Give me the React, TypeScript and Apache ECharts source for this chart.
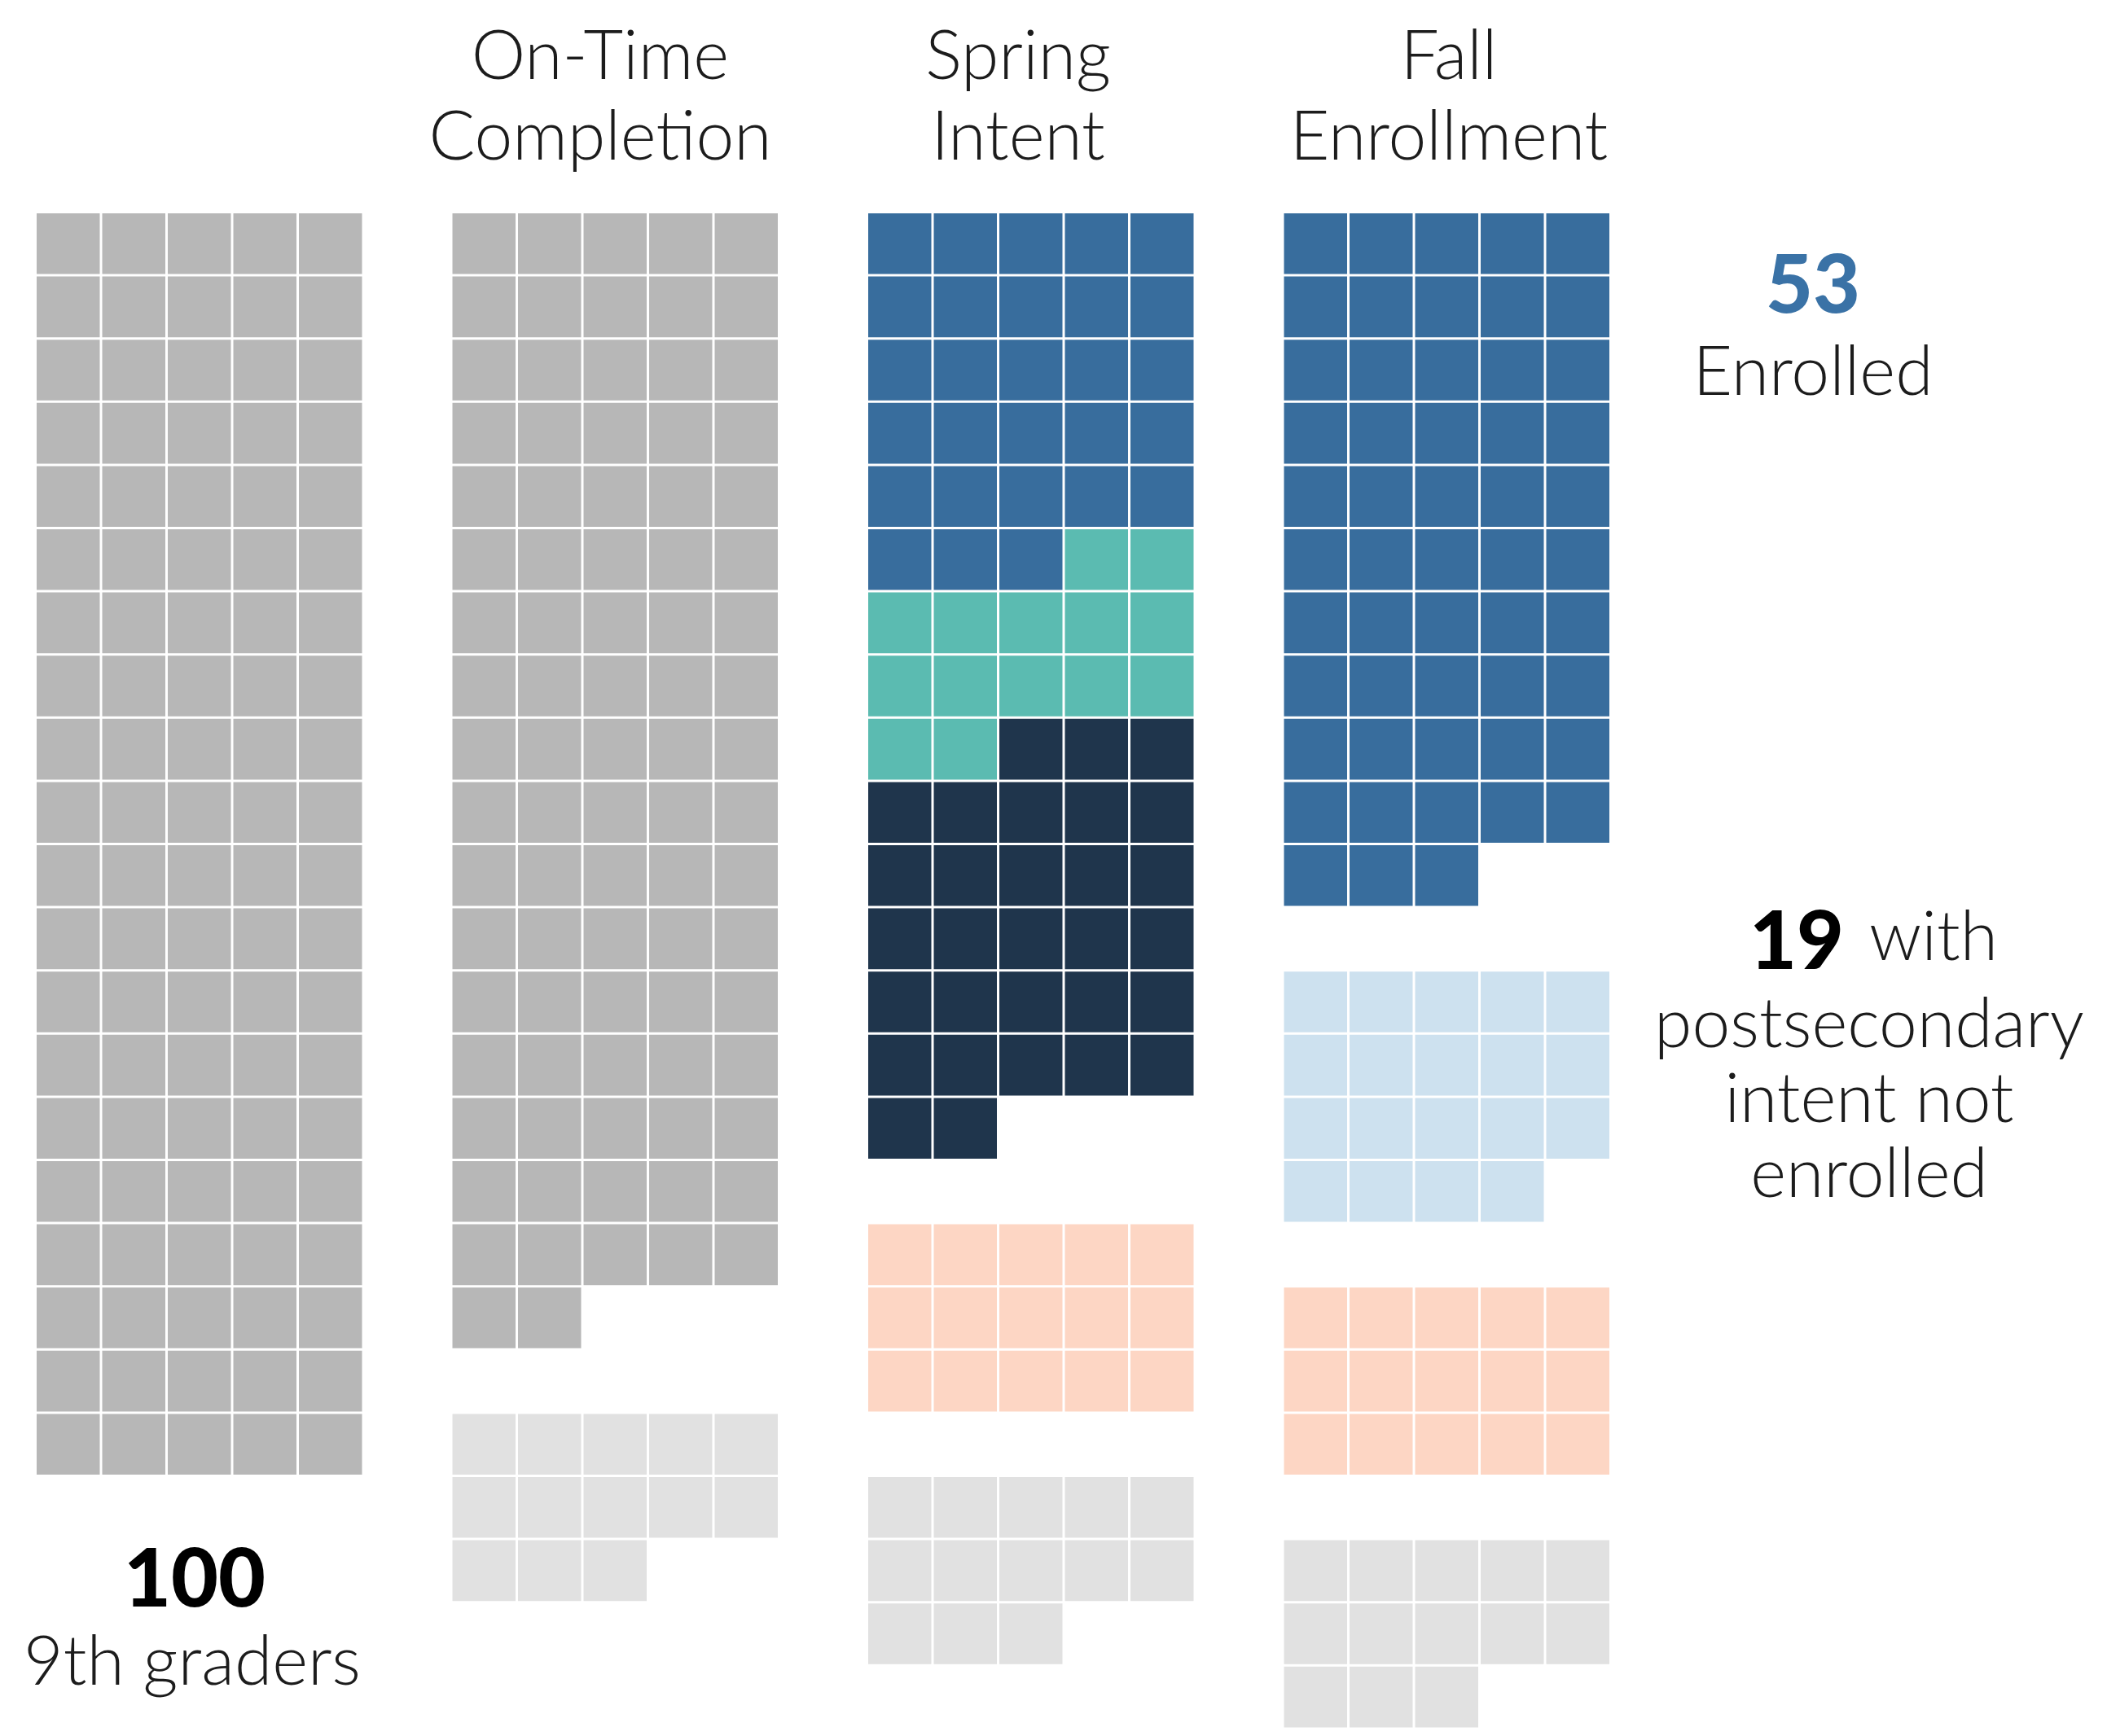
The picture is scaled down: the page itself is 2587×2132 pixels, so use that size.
import React, { useEffect, useRef } from "react";
import * as echarts from "echarts";

// ---- data ----
const ninthGraderCounts = [100];
const onTimeCounts = [87, 13];
const springIntentCounts = [28, 14, 30, 15, 13];
const fallEnrollmentCounts = [53, 19, 15, 13];

// which segments begin a new block (separated by a blank row)
const ninthGraderBlockStarts = [false];
const onTimeBlockStarts = [false, true];
const springBlockStarts = [false, false, false, true, true];
const fallBlockStarts = [false, true, true, true];

const columnTitles = ["", "On-Time\nCompletion", "Spring\nIntent", "Fall\nEnrollment"];

// ---- styles ----
const GRAY = "#b7b7b7";
const LIGHT_GRAY = "#e1e1e1";
const BLUE = "#386d9d";
const TEAL = "#5bbbb1";
const NAVY = "#1f354c";
const PEACH = "#fdd6c4";
const LIGHT_BLUE = "#cde1ef";

const ninthGraderColors = [GRAY];
const onTimeColors = [GRAY, LIGHT_GRAY];
const springColors = [BLUE, TEAL, NAVY, PEACH, LIGHT_GRAY];
const fallColors = [BLUE, LIGHT_BLUE, PEACH, LIGHT_GRAY];

const PER_ROW = 5;
const ROWS = 24;
const GRID_TOP = 262;
const ROW_PITCH = 77.6;
const CELL_PITCH = 80.5;
const GAP = 3;
const COL_LEFTS = [45, 555.5, 1066, 1576.5];
const TITLE_X = [0, 737, 1250, 1779];

const LIGHT_FONT = "Lato, 'Noto Sans', sans-serif";
const LIGHT_SIZE = 84;
const BOLD_SIZE = 100;

function layoutCells(counts: number[], starts: boolean[], colors: string[]) {
  const out: any[] = [];
  let row = 0;
  let pos = 0;
  counts.forEach((n, s) => {
    if (starts[s] && (row > 0 || pos > 0)) {
      if (pos > 0) {
        row++;
        pos = 0;
      }
      row++;
    }
    for (let k = 0; k < n; k++) {
      out.push({ value: [pos, row], itemStyle: { color: colors[s] } });
      pos++;
      if (pos === PER_ROW) {
        pos = 0;
        row++;
      }
    }
  });
  return out;
}

export default function App() {
  const ref = useRef<HTMLDivElement>(null);

  useEffect(() => {
    document.body.style.margin = "0";
    document.body.style.overflow = "hidden";
    if (!ref.current) return;
    const chart = echarts.init(ref.current, null, { renderer: "svg" });

    const columns = [
      layoutCells(ninthGraderCounts, ninthGraderBlockStarts, ninthGraderColors),
      layoutCells(onTimeCounts, onTimeBlockStarts, onTimeColors),
      layoutCells(springIntentCounts, springBlockStarts, springColors),
      layoutCells(fallEnrollmentCounts, fallBlockStarts, fallColors),
    ];

    const grids = COL_LEFTS.map((left) => ({
      left,
      top: GRID_TOP,
      width: CELL_PITCH * PER_ROW,
      height: ROW_PITCH * ROWS,
    }));
    const xAxes = COL_LEFTS.map((_, i) => ({
      type: "value",
      gridIndex: i,
      min: 0,
      max: PER_ROW,
      show: false,
    }));
    const yAxes = COL_LEFTS.map((_, i) => ({
      type: "value",
      gridIndex: i,
      min: 0,
      max: ROWS,
      inverse: true,
      show: false,
    }));

    const series = columns.map((data, i) => ({
      type: "custom",
      xAxisIndex: i,
      yAxisIndex: i,
      encode: { x: 0, y: 1 },
      data,
      renderItem: (params: any, api: any) => {
        const x = api.value(0);
        const y = api.value(1);
        const p0 = api.coord([x, y]);
        const p1 = api.coord([x + 1, y + 1]);
        return {
          type: "rect",
          shape: {
            x: p0[0],
            y: p0[1],
            width: p1[0] - p0[0] - GAP,
            height: p1[1] - p0[1] - GAP,
          },
          style: { fill: api.visual("color") },
        };
      },
    }));

    const graphic: any[] = [];
    columnTitles.forEach((t, i) => {
      if (!t) return;
      graphic.push({
        type: "text",
        x: TITLE_X[i],
        y: 114,
        style: {
          text: t,
          fontFamily: LIGHT_FONT,
          fontWeight: 300,
          fontSize: LIGHT_SIZE,
          lineHeight: 99,
          fill: "#1c1c1c",
          textAlign: "center",
          textVerticalAlign: "middle",
        },
      });
    });

    const addText = (text: string, x: number, y: number, size: number, bold: boolean, color = "#1c1c1c") =>
      graphic.push({
        type: "text",
        x,
        y,
        style: {
          text,
          fontFamily: LIGHT_FONT,
          fontWeight: bold ? 900 : 300,
          fontSize: size,
          fill: color,
          textAlign: "center",
          textVerticalAlign: "middle",
        },
      });

    addText("53", 2226, 345, BOLD_SIZE, true, "#3a72a6");
    addText("Enrolled", 2226, 452, LIGHT_SIZE, false);
    addText("19", 2206, 1151, BOLD_SIZE, true, "#000000");
    addText("with", 2374, 1146, LIGHT_SIZE, false);
    addText("postsecondary", 2295, 1253, LIGHT_SIZE, false);
    addText("intent not", 2295, 1345, LIGHT_SIZE, false);
    addText("enrolled", 2295, 1437, LIGHT_SIZE, false);
    addText("100", 239, 1934, BOLD_SIZE, true, "#000000");
    addText("9th graders", 236, 2036, LIGHT_SIZE, false);

    chart.setOption({
      animation: false,
      backgroundColor: "#ffffff",
      grid: grids,
      xAxis: xAxes,
      yAxis: yAxes,
      series,
      graphic,
    });

    return () => chart.dispose();
  }, []);

  return <div ref={ref} style={{ width: 2587, height: 2132 }} />;
}
